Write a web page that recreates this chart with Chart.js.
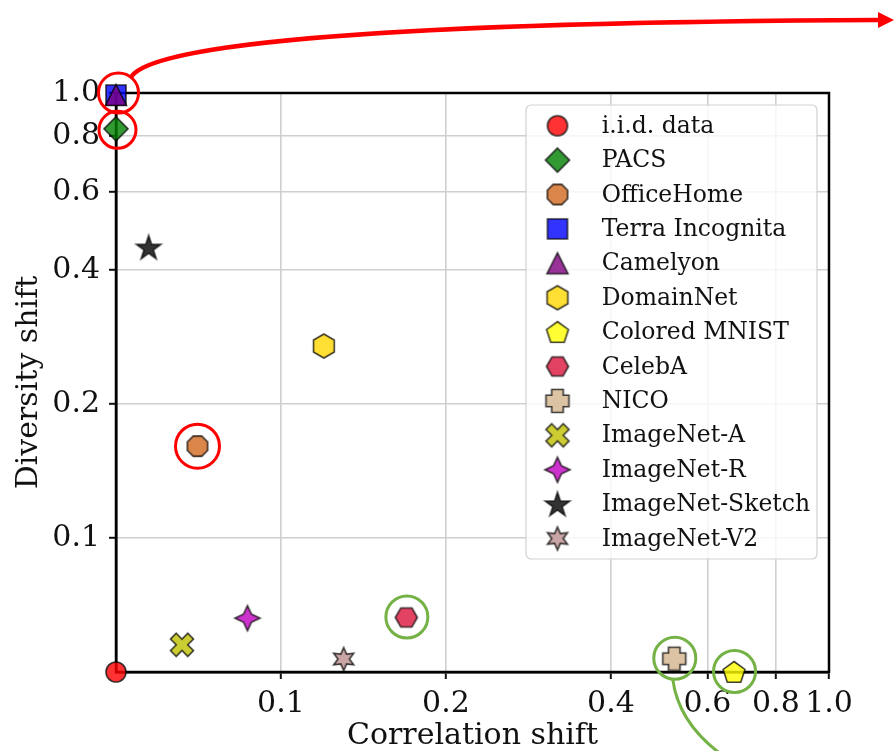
<!DOCTYPE html>
<html><head><meta charset="utf-8">
<script src="https://cdn.jsdelivr.net/npm/chart.js@4.4.1/dist/chart.umd.min.js"></script>
<style>html,body{margin:0;padding:0;background:#fff;}#wrap{width:894px;height:751px;}</style>
</head><body><div id="wrap"><canvas id="c" width="894" height="751"></canvas></div>
<script>
// ---------------- data ----------------
const datasetNames = ['i.i.d. data','PACS','OfficeHome','Terra Incognita','Camelyon','DomainNet','Colored MNIST','CelebA','NICO','ImageNet-A','ImageNet-R','ImageNet-Sketch','ImageNet-V2'];
const correlationShift = [0, 0, 0.0494, 0, 0, 0.126, 0.671, 0.176, 0.522, 0.040, 0.0797, 0.0198, 0.138];
const diversityShift   = [0, 0.831, 0.1686, 0.99, 0.99, 0.270, 0, 0.0407, 0.0099, 0.0203, 0.0402, 0.450, 0.0097];
const xTickValues = [0.1, 0.2, 0.4, 0.6, 0.8, 1.0];
const xTickLabels = ['0.1', '0.2', '0.4', '0.6', '0.8', '1.0'];
const yTickValues = [0.1, 0.2, 0.4, 0.6, 0.8, 1.0];
const yTickLabels = ['0.1', '0.2', '0.4', '0.6', '0.8', '1.0'];
const markerShapes = ['circle','diamond','octagon','square','triangle','hexagonPointy','pentagon','hexagonFlat','plusFilled','xFilled','star4','star5','star6'];
const markerColors = ['#ff0000','#008000','#d2691e','#0000ff','#800080','#ffd700','#ffff00','#dc143c','#d2b48c','#bfbf00','#bf00bf','#000000','#bc8f8f'];
const redHighlights = [3, 1, 2];      // Terra Incognita/Camelyon, PACS, OfficeHome
const greenHighlights = [7, 8, 6];    // CelebA, NICO, Colored MNIST

// ---------------- symlog (base 2) scale ----------------
const LIN = 0.2, UNIT = 0.1;
const T = v => v <= LIN ? v / UNIT : LIN / UNIT + Math.log2(v / LIN);
const Tinv = t => t <= LIN / UNIT ? t * UNIT : LIN * Math.pow(2, t - LIN / UNIT);
class SymLog2Scale extends Chart.LinearScale {
  configure() {
    super.configure();
    this._t0 = T(this.min);
    this._tR = T(this.max) - this._t0;
  }
  getPixelForValue(v) { return this.getPixelForDecimal((T(v) - this._t0) / this._tR); }
  getValueForPixel(p) { return Tinv(this._t0 + this.getDecimalForPixel(p) * this._tR); }
}
SymLog2Scale.id = 'symlog2';
SymLog2Scale.defaults = Chart.LinearScale.defaults;
Chart.register(SymLog2Scale);

// ---------------- markers ----------------
function rgba(hex, a) {
  const n = parseInt(hex.slice(1), 16);
  return `rgba(${n >> 16},${(n >> 8) & 255},${n & 255},${a})`;
}
function poly(g, pts) { g.moveTo(pts[0][0], pts[0][1]); for (let i = 1; i < pts.length; i++) g.lineTo(pts[i][0], pts[i][1]); g.closePath(); }
function regular(n, r, rot) { const p = []; for (let i = 0; i < n; i++) { const a = rot + i * 2 * Math.PI / n - Math.PI / 2; p.push([r * Math.cos(a), r * Math.sin(a)]); } return p; }
function star(n, ro, ri) { const p = []; for (let i = 0; i < 2 * n; i++) { const r = i % 2 ? ri : ro; const a = i * Math.PI / n - Math.PI / 2; p.push([r * Math.cos(a), r * Math.sin(a)]); } return p; }
function makeMarker(shape, color) {
  const S = 32, c = document.createElement('canvas'); c.width = S; c.height = S;
  const g = c.getContext('2d'); g.translate(S / 2, S / 2); g.beginPath();
  switch (shape) {
    case 'circle': g.arc(0, 0, 10, 0, Math.PI * 2); break;
    case 'diamond': poly(g, regular(4, 12, 0)); break;
    case 'octagon': poly(g, regular(8, 11, Math.PI / 8)); break;
    case 'square': poly(g, [[-10,-10],[10,-10],[10,10],[-10,10]]); break;
    case 'triangle': poly(g, [[0,-10.5],[10.5,10.5],[-10.5,10.5]]); break;
    case 'hexagonPointy': poly(g, regular(6, 12, 0)); break;
    case 'pentagon': poly(g, regular(5, 11.5, 0).map(p => [p[0], p[1] + 1])); break;
    case 'hexagonFlat': poly(g, regular(6, 11, Math.PI / 6)); break;
    case 'plusFilled': { const u = 11.5 / 2; poly(g, [[-1,-2],[1,-2],[1,-1],[2,-1],[2,1],[1,1],[1,2],[-1,2],[-1,1],[-2,1],[-2,-1],[-1,-1]].map(p => [p[0]*u, p[1]*u])); break; }
    case 'xFilled': { const u = 11.5 / 2; poly(g, [[-1,-2],[0,-1],[1,-2],[2,-1],[1,0],[2,1],[1,2],[0,1],[-1,2],[-2,1],[-1,0],[-2,-1]].map(p => [p[0]*u, p[1]*u])); break; }
    case 'star4': poly(g, star(4, 12.5, 12.5 * 0.45)); break;
    case 'star5': poly(g, star(5, 12.8, 12.8 * 0.382).map(p => [p[0], p[1] + 1])); break;
    case 'star6': poly(g, star(6, 11.5, 11.5 * 0.5)); break;
  }
  g.fillStyle = rgba(color, 0.8); g.fill();
  g.lineWidth = 1.6; g.strokeStyle = 'rgba(0,0,0,0.75)'; g.lineJoin = 'miter'; g.stroke();
  return c;
}
const markerImages = markerShapes.map((s, i) => makeMarker(s, markerColors[i]));

// ---------------- plugin: spines, legend, annotations ----------------
const FONT = "'DejaVu Serif', serif";
const decor = {
  id: 'decor',
  beforeDatasetsDraw(chart) {
    const { ctx, chartArea: a } = chart;
    ctx.save(); ctx.strokeStyle = '#000'; ctx.lineWidth = 2.5;
    ctx.strokeRect(a.left, a.top, a.right - a.left, a.bottom - a.top);
    ctx.restore();
  },
  afterDatasetsDraw(chart) {
    const { ctx, chartArea: a } = chart;
    const sx = chart.scales.x, sy = chart.scales.y;
    const P = i => [sx.getPixelForValue(correlationShift[i]), sy.getPixelForValue(diversityShift[i])];
    ctx.save();
    // legend
    const bw = 291, bh = 454, bx = a.right - 12 - bw, by = a.top + 12;
    ctx.beginPath(); ctx.roundRect(bx, by, bw, bh, 5);
    ctx.fillStyle = 'rgba(255,255,255,0.8)'; ctx.fill();
    ctx.lineWidth = 1.2; ctx.strokeStyle = 'rgba(204,204,204,0.9)'; ctx.stroke();
    ctx.font = '23.5px ' + FONT; ctx.fillStyle = '#111'; ctx.textBaseline = 'alphabetic'; ctx.textAlign = 'left';
    chart.data.datasets.forEach((ds, i) => {
      const cy = by + 20.7 + i * 34.4;
      const img = ds.pointStyle;
      ctx.drawImage(img, bx + 31.5 - img.width / 2, cy - img.height / 2);
      ctx.fillText(ds.label, bx + 75.7, cy + 7);
    });
    // red circles
    ctx.lineWidth = 3; ctx.strokeStyle = '#ff0000';
    const redR = [20, 18.5, 22], redOff = [[2.5, -2], [1.5, 1], [0, 0]];
    redHighlights.forEach((idx, k) => {
      const [x, y] = P(idx); ctx.beginPath(); ctx.arc(x + redOff[k][0], y + redOff[k][1], redR[k], 0, Math.PI * 2); ctx.stroke();
    });
    // red arrow
    const [tx, ty] = P(redHighlights[0]);
    const sx0 = tx + 15, sy0 = ty - 18;
    const ex = chart.width - 15, ey = 20;
    ctx.lineWidth = 4.5; ctx.lineCap = 'butt';
    ctx.beginPath(); ctx.moveTo(sx0, sy0);
    ctx.bezierCurveTo(sx0 + 25, sy0 - 38, sx0 + 320, ey + 2, ex, ey);
    ctx.stroke();
    ctx.fillStyle = '#ff0000';
    ctx.beginPath(); ctx.moveTo(ex - 1, ey - 8); ctx.lineTo(chart.width, ey); ctx.lineTo(ex - 1, ey + 8); ctx.closePath(); ctx.fill();
    // green circles
    ctx.lineWidth = 3; ctx.strokeStyle = '#74b245';
    greenHighlights.forEach(idx => {
      const [x, y] = P(idx); ctx.beginPath(); ctx.arc(x + 0.5, y - 0.5, 21, 0, Math.PI * 2); ctx.stroke();
    });
    // green curve from NICO circle
    const [nx, ny] = P(greenHighlights[1]);
    const gx0 = nx - 1.5, gy0 = ny + 20.5;
    ctx.beginPath(); ctx.moveTo(gx0, gy0);
    ctx.quadraticCurveTo(gx0 + 7, gy0 + 55, gx0 + 75, gy0 + 92);
    ctx.stroke();
    ctx.restore();
  }
};

// ---------------- chart ----------------
Chart.defaults.font.family = FONT;
Chart.defaults.color = '#111';
const datasets = datasetNames.map((name, i) => ({
  label: name,
  data: [{ x: correlationShift[i], y: diversityShift[i] }],
  pointStyle: markerImages[i],
  pointRadius: 10,
  clip: false,
  order: datasetNames.length - i
}));
const axisCommon = (values, labels) => ({
  type: 'symlog2', min: 0, max: 1,
  afterBuildTicks: s => { s.ticks = values.map(v => ({ value: v })); },
  ticks: { autoSkip: false, maxRotation: 0, font: { size: 30 }, color: '#111', callback: (v, i) => labels[i] },
  grid: { color: '#cfcfcf', lineWidth: 1.6, tickColor: '#111', tickWidth: 2, tickLength: 7, drawTicks: true },
  border: { color: '#000', width: 2.5 }
});
const xOpts = axisCommon(xTickValues, xTickLabels);
xOpts.ticks.padding = 7;
xOpts.title = { display: true, text: 'Correlation shift', font: { size: 30, lineHeight: 1 }, color: '#111', padding: { top: 0, bottom: 0 } };
xOpts.afterFit = s => { s.height = 79; };
const yOpts = axisCommon(yTickValues, yTickLabels);
yOpts.ticks.padding = 9;
yOpts.title = { display: true, text: 'Diversity shift', font: { size: 30, lineHeight: 1 }, color: '#111', padding: { top: 14, bottom: 0 } };
yOpts.afterFit = s => { s.width = 116; };

new Chart(document.getElementById('c'), {
  type: 'scatter',
  data: { datasets },
  options: {
    responsive: false, animation: false, devicePixelRatio: 1,
    layout: { padding: { top: 93, right: 65, left: 0, bottom: 0 } },
    scales: { x: xOpts, y: yOpts },
    plugins: { legend: { display: false }, tooltip: { enabled: false } }
  },
  plugins: [decor]
});
</script></body></html>
